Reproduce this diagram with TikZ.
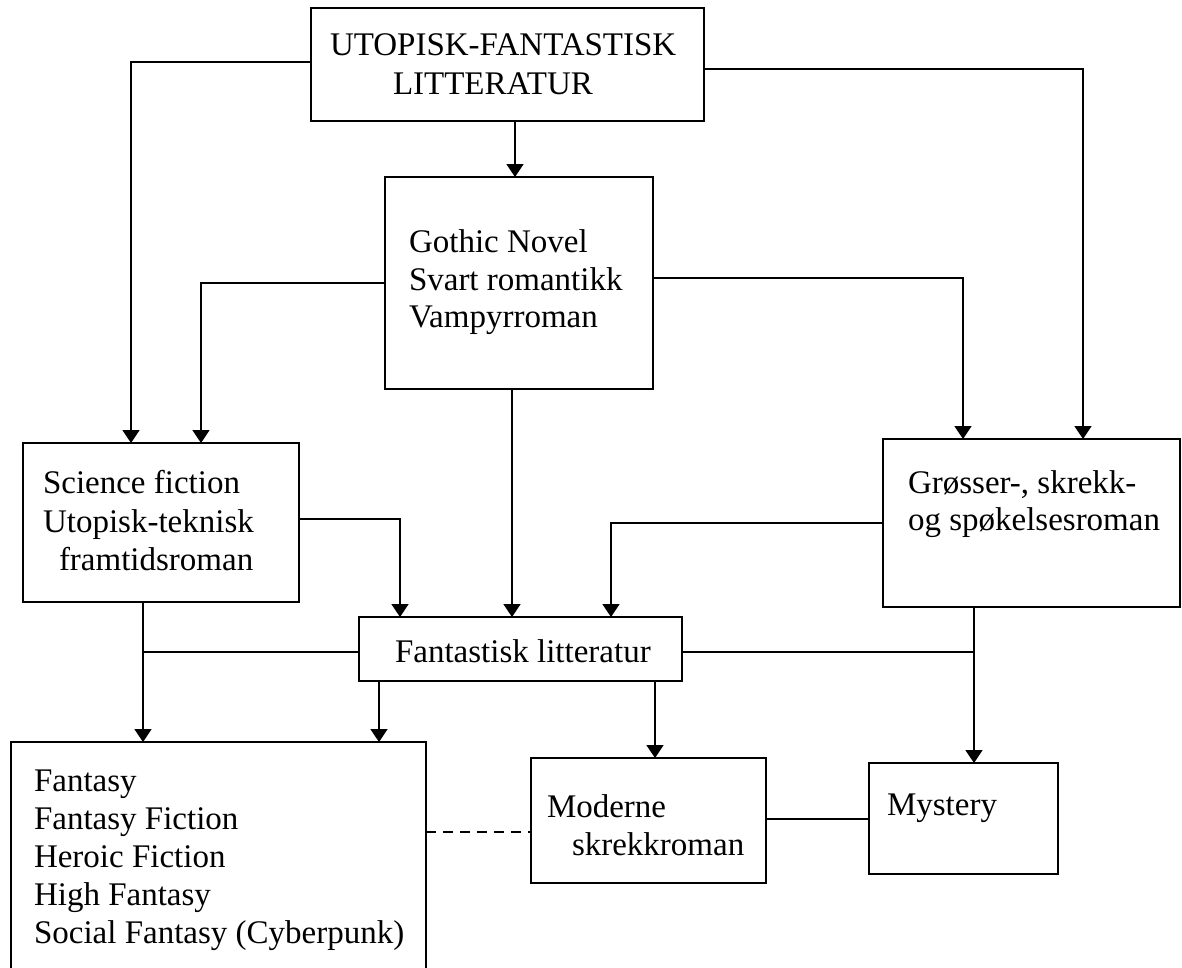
\documentclass[tikz,border=0pt]{standalone}
\usepackage{fontspec}
\setmainfont{Liberation Serif}
\usetikzlibrary{arrows.meta}
\tikzset{
	box/.style={draw=black, line width=1.8pt, rectangle, inner sep=0pt, outer sep=0pt, anchor=north west},
	lbl/.style={anchor=base west, inner sep=0pt, outer sep=0pt, font=\fontsize{33}{38}\selectfont},
	conn/.style={draw=black, line width=1.8pt},
	arr/.style={conn, -{Triangle[width=17pt,length=13pt]}},
	dashconn/.style={conn, dash pattern=on 10pt off 7pt},
}
\begin{document}
\begin{tikzpicture}[x=1pt, y=-1pt]
			\useasboundingbox (0,0) rectangle (1182,967);
			% boxes
			\node[box, minimum width=393pt, minimum height=113pt] (utopisk) at (311,8) {};
			\node[box, minimum width=268pt, minimum height=212pt] (gothic) at (385,177) {};
			\node[box, minimum width=276pt, minimum height=159pt] (scifi) at (23,443) {};
			\node[box, minimum width=297pt, minimum height=168pt] (grosser) at (883,439) {};
			\node[box, minimum width=323pt, minimum height=64pt] (fantlit) at (359,617) {};
			\node[box, minimum width=415pt, minimum height=260pt] (fantasy) at (11,742) {};
			\node[box, minimum width=235pt, minimum height=125pt] (moderne) at (531,758) {};
			\node[box, minimum width=189pt, minimum height=111pt] (mystery) at (869,763) {};
			% texts
			\node[lbl] (text-utopisk-1) at (330,55) {UTOPISK-FANTASTISK};
			\node[lbl] (text-utopisk-2) at (393,94) {LITTERATUR};
			\node[lbl] (text-gothic-1) at (409,252) {Gothic Novel};
			\node[lbl] (text-gothic-2) at (409,290) {Svart romantikk};
			\node[lbl] (text-gothic-3) at (409,327) {Vampyrroman};
			\node[lbl] (text-scifi-1) at (43,493) {Science fiction};
			\node[lbl] (text-scifi-2) at (43,532) {Utopisk-teknisk};
			\node[lbl] (text-scifi-3) at (59,570) {framtidsroman};
			\node[lbl] (text-grosser-1) at (908,493) {Grøsser-, skrekk-};
			\node[lbl] (text-grosser-2) at (908,530) {og spøkelsesroman};
			\node[lbl] (text-fantlit) at (395,662) {Fantastisk litteratur};
			\node[lbl] (text-fantasy-1) at (34,791) {Fantasy};
			\node[lbl] (text-fantasy-2) at (34,829) {Fantasy Fiction};
			\node[lbl] (text-fantasy-3) at (34,867) {Heroic Fiction};
			\node[lbl] (text-fantasy-4) at (34,905) {High Fantasy};
			\node[lbl] (text-fantasy-5) at (34,943) {Social Fantasy (Cyberpunk)};
			\node[lbl] (text-moderne-1) at (547,817) {Moderne};
			\node[lbl] (text-moderne-2) at (572,855) {skrekkroman};
			\node[lbl] (text-mystery) at (887,815) {Mystery};
			% junctions
			\coordinate (jleft) at (143,652);
			\coordinate (jright) at (974,652);
			% connectors
			\path[arr] (utopisk.south -| 515,0) -- (gothic.north -| 515,0);
			\path[arr] (utopisk.west |- 0,62) -| (scifi.north -| 131,0);
			\path[arr] (utopisk.east |- 0,69) -| (grosser.north -| 1083,0);
			\path[arr] (gothic.west |- 0,283) -| (scifi.north -| 201,0);
			\path[arr] (gothic.east |- 0,278) -| (grosser.north -| 963,0);
			\path[arr] (gothic.south -| 512,0) -- (fantlit.north -| 512,0);
			\path[arr] (scifi.east |- 0,519) -| (fantlit.north -| 400,0);
			\path[arr] (grosser.west |- 0,523) -| (fantlit.north -| 611,0);
			\path[arr] (scifi.south -| jleft) -- (fantasy.north -| jleft);
			\path[conn] (fantlit.west |- jleft) -- (jleft);
			\path[conn] (fantlit.east |- jright) -- (jright);
			\path[arr] (grosser.south -| jright) -- (mystery.north -| jright);
			\path[arr] (fantlit.south -| 379,0) -- (fantasy.north -| 379,0);
			\path[arr] (fantlit.south -| 655,0) -- (moderne.north -| 655,0);
			\path[dashconn] (fantasy.east |- 0,832) -- (moderne.west |- 0,832);
			\path[conn] (moderne.east |- 0,819) -- (mystery.west |- 0,819);
\end{tikzpicture}
\end{document}
